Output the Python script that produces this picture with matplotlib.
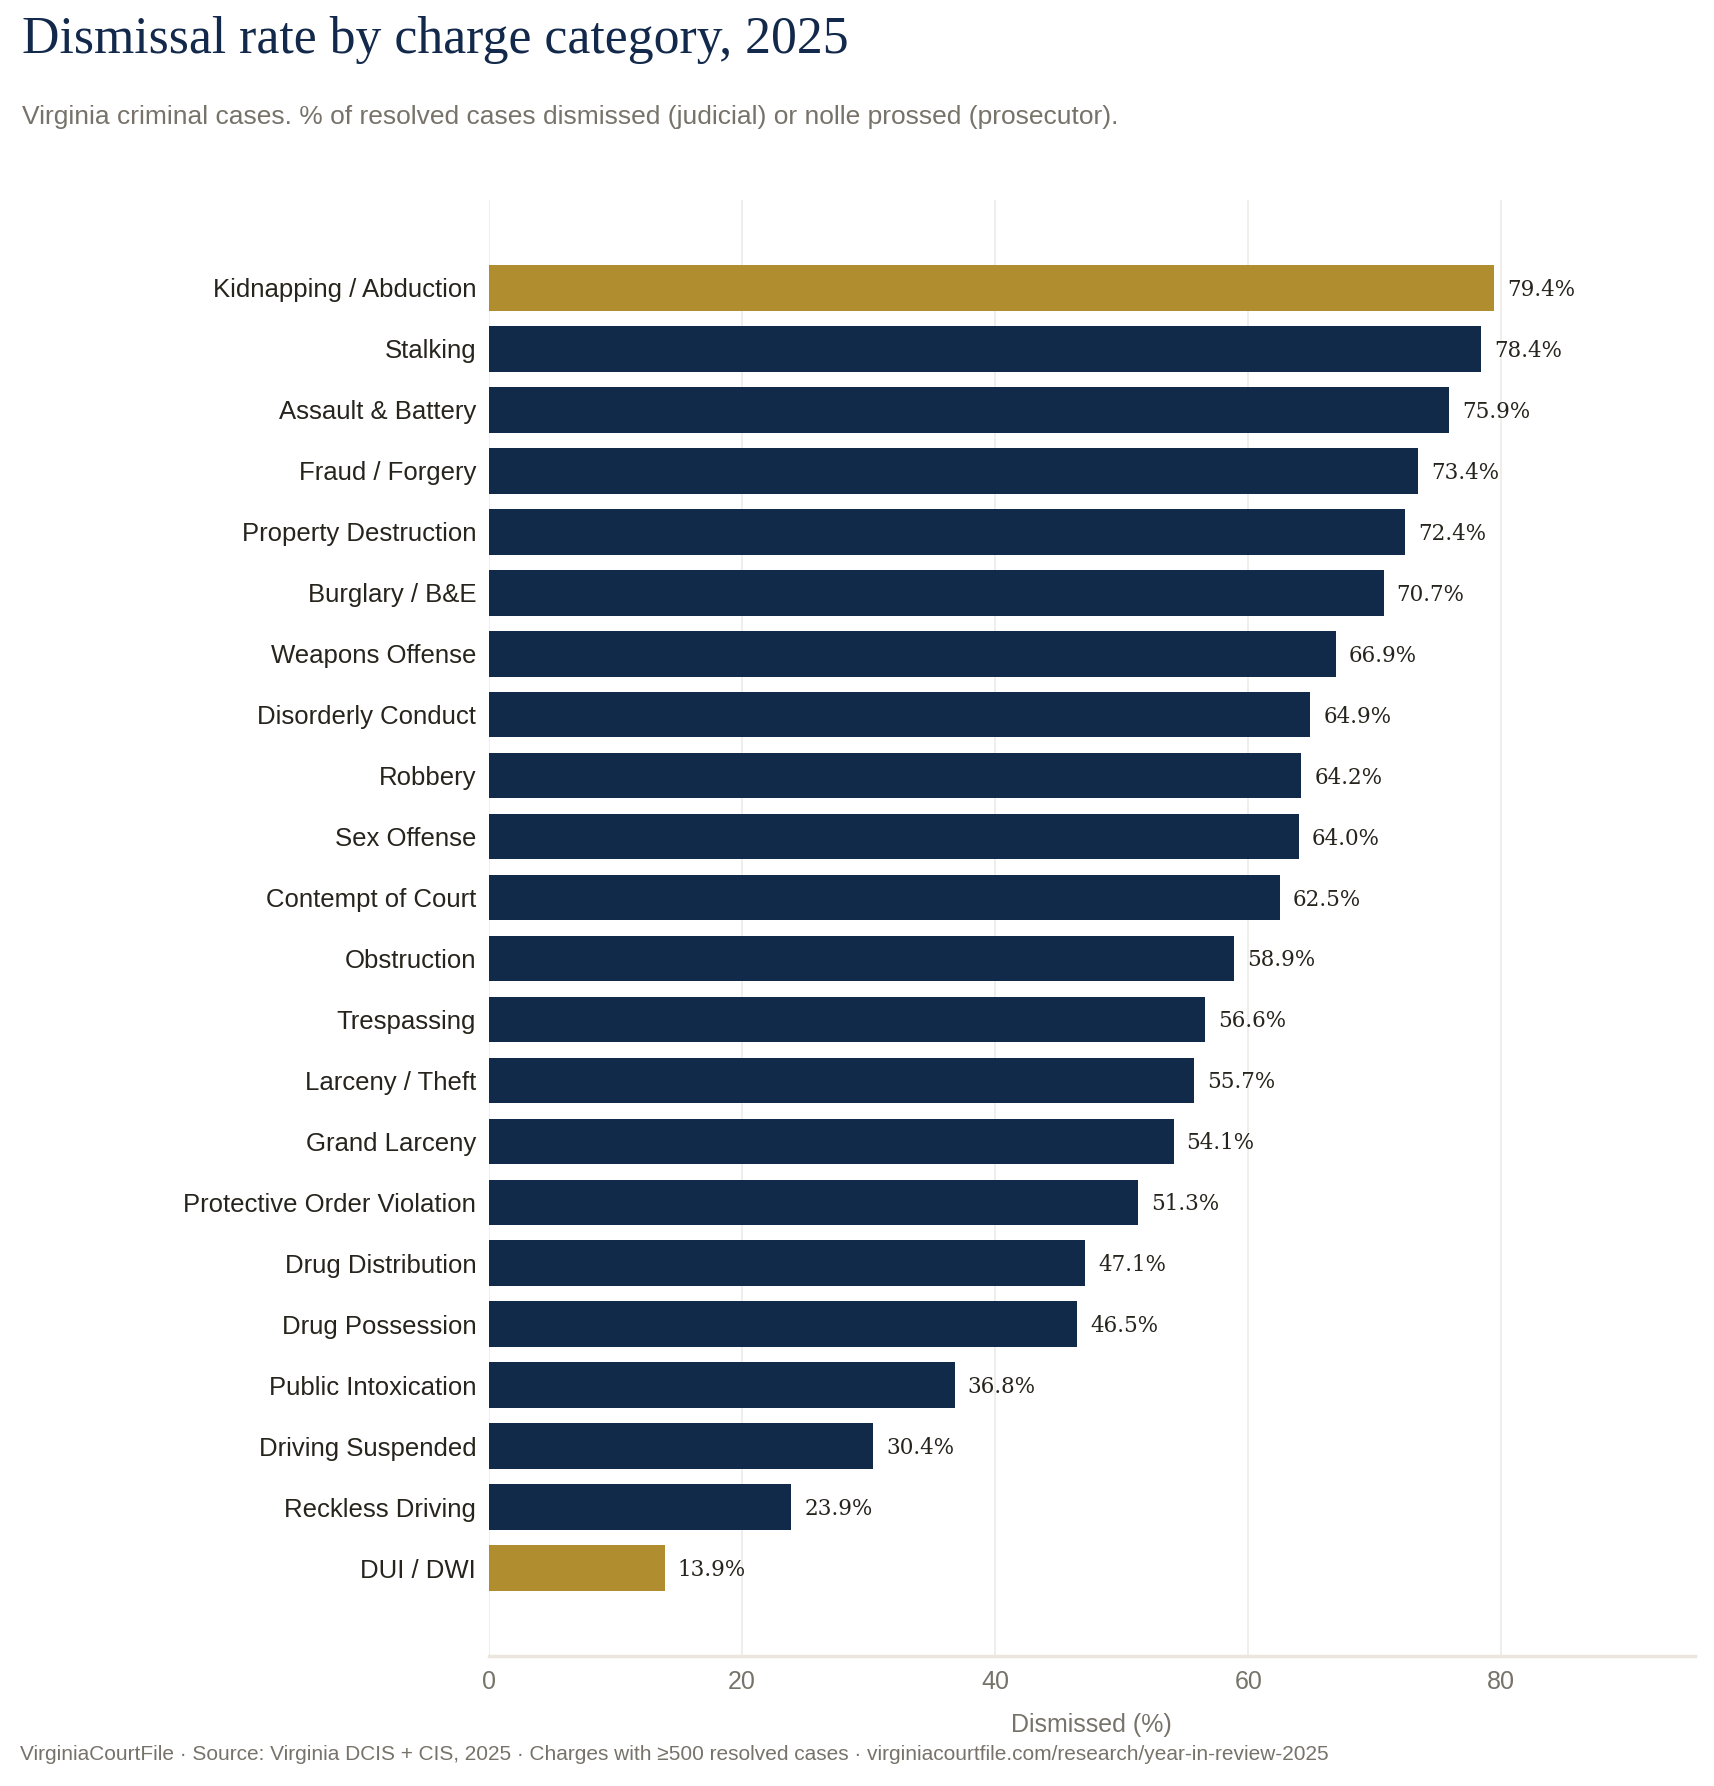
import matplotlib
matplotlib.use('Agg')
import matplotlib.pyplot as plt

categories = [
    'Kidnapping / Abduction', 'Stalking', 'Assault & Battery', 'Fraud / Forgery',
    'Property Destruction', 'Burglary / B&E', 'Weapons Offense', 'Disorderly Conduct',
    'Robbery', 'Sex Offense', 'Contempt of Court', 'Obstruction', 'Trespassing',
    'Larceny / Theft', 'Grand Larceny', 'Protective Order Violation',
    'Drug Distribution', 'Drug Possession', 'Public Intoxication',
    'Driving Suspended', 'Reckless Driving', 'DUI / DWI',
]
dismissed_pct = [79.4, 78.4, 75.9, 73.4, 72.4, 70.7, 66.9, 64.9, 64.2, 64.0, 62.5,
                 58.9, 56.6, 55.7, 54.1, 51.3, 47.1, 46.5, 36.8, 30.4, 23.9, 13.9]
highlight = ['Kidnapping / Abduction', 'DUI / DWI']
x_ticks = [0, 20, 40, 60, 80]

NAVY = '#122a4a'
GOLD = '#b08d2e'
INK = '#26241c'
GREY = '#77736a'

fig = plt.figure(figsize=(17.14, 17.86), dpi=100)
ax = fig.add_axes([0.2851, 0.0728, 0.7037, 0.8152])

n = len(categories)
ypos = list(range(n))
colors = [GOLD if c in highlight else NAVY for c in categories]
ax.barh(ypos, dismissed_pct, height=0.75, color=colors, zorder=3)

# value labels at bar ends
for y, v in zip(ypos, dismissed_pct):
    ax.annotate(f'{v:.1f}%', (v, y), xytext=(13, -2), textcoords='offset pixels',
                va='center', ha='left', fontsize=15.5, family='DejaVu Serif', color=INK)

ax.set_ylim(n - 1 + 1.44, -1.44)
ax.set_xlim(0, max(dismissed_pct) * 1.2)
ax.set_yticks(ypos)
ax.set_yticklabels(categories, fontsize=18.5, family='Liberation Sans', color=INK)
ax.set_xticks(x_ticks)
ax.set_xticklabels([str(t) for t in x_ticks], fontsize=18, family='Liberation Sans', color=GREY)
ax.tick_params(axis='y', length=0, pad=9)
ax.tick_params(axis='x', length=0, pad=10)
ax.grid(axis='x', color='#eeebe6', linewidth=1.2, zorder=0)
for s in ['top', 'right', 'left']:
    ax.spines[s].set_visible(False)
ax.spines['bottom'].set_color('#ebe7de')
ax.spines['bottom'].set_linewidth(2.5)
ax.set_xlabel('Dismissed (%)', fontsize=18, family='Liberation Sans', color=GREY, labelpad=14)

fig.text(22 / 1714, 1 - 40 / 1786, 'Dismissal rate by charge category, 2025', fontsize=37.3,
         family='Liberation Serif', color='#13294b', va='center', ha='left')
fig.text(22 / 1714, 1 - 117 / 1786,
         'Virginia criminal cases. % of resolved cases dismissed (judicial) or nolle prossed (prosecutor).',
         fontsize=19, family='Liberation Sans', color=GREY, va='center', ha='left')
fig.text(20 / 1714, 1 - 1755 / 1786,
         'VirginiaCourtFile · Source: Virginia DCIS + CIS, 2025 · Charges with ≥500 resolved cases · '
         'virginiacourtfile.com/research/year-in-review-2025',
         fontsize=15, family='Liberation Sans', color=GREY, va='center', ha='left')

fig.savefig('out.png', dpi=100)
